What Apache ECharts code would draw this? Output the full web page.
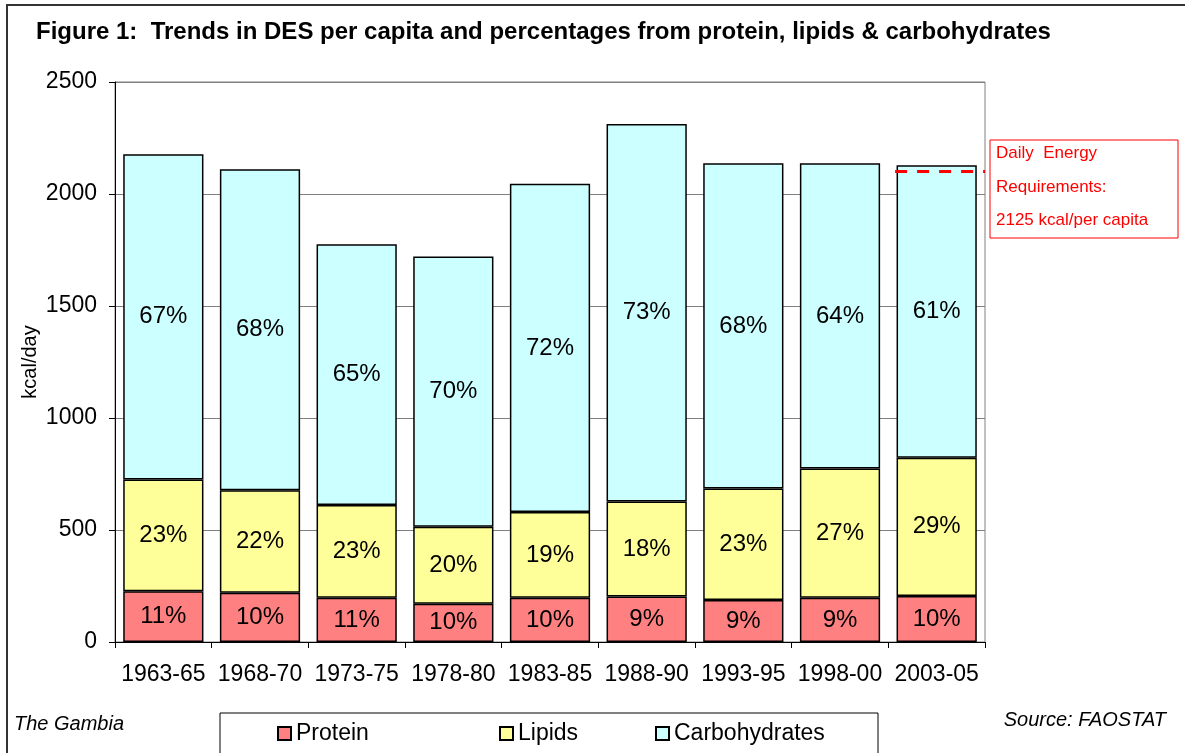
<!DOCTYPE html>
<html>
<head>
<meta charset="utf-8">
<script src="https://cdn.jsdelivr.net/npm/echarts@6/dist/echarts.min.js"></script>
<style>
html,body{margin:0;padding:0;background:#fff;}
#chart{width:1185px;height:753px;}
</style>
</head>
<body>
<div id="chart"></div>
<script>
const categories = ['1963-65','1968-70','1973-75','1978-80','1983-85','1988-90','1993-95','1998-00','2003-05'];
const protein = [227, 220, 197, 171, 197, 203, 187, 197, 205];
const lipids = [499, 457, 415, 343, 383, 424, 498, 577, 618];
const carbs = [1451, 1433, 1164, 1207, 1466, 1686, 1452, 1363, 1305];
const proteinPct = ['11%','10%','11%','10%','10%','9%','9%','9%','10%'];
const lipidsPct = ['23%','22%','23%','20%','19%','18%','23%','27%','29%'];
const carbsPct = ['67%','68%','65%','70%','72%','73%','68%','64%','61%'];
const derValue = 2100;
const derText = ['Daily  Energy', 'Requirements:', '2125 kcal/per capita'];

const FONT = '"Liberation Sans", Arial, sans-serif';
const chart = echarts.init(document.getElementById('chart'));

function mkSeries(name, data, pct, color) {
  return {
    name: name, type: 'bar', stack: 'total', data: data,
    barCategoryGap: '17%',
    itemStyle: { color: color, borderColor: '#000', borderWidth: 1.5 },
    label: {
      show: true, position: 'inside', color: '#000', fontFamily: FONT, fontSize: 24,
      formatter: p => pct[p.dataIndex]
    },
    emphasis: { disabled: true }
  };
}

const legendBase = {
  itemWidth: 13, itemHeight: 13, itemGap: 6, top: 722, padding: 0,
  textStyle: { fontFamily: FONT, fontSize: 23, color: '#000' },
  icon: 'rect', selectedMode: false
};

const option = {
  animation: false,
  backgroundColor: '#fff',
  title: {
    text: 'Figure 1:  Trends in DES per capita and percentages from protein, lipids & carbohydrates',
    left: 31, top: 15,
    textStyle: { fontFamily: FONT, fontSize: 24, fontWeight: 'bold', color: '#000' }
  },
  grid: { left: 115, right: 200, top: 82, bottom: 111, show: true, borderColor: '#808080', borderWidth: 1 },
  legend: [
    Object.assign({}, legendBase, { data: ['Protein'], left: 277 }),
    Object.assign({}, legendBase, { data: ['Lipids'], left: 499 }),
    Object.assign({}, legendBase, { data: ['Carbohydrates'], left: 655 })
  ],
  xAxis: [{
    type: 'category', data: categories,
    axisLine: { lineStyle: { color: '#000', width: 1 } },
    axisTick: { show: true, length: 6, lineStyle: { color: '#000' } },
    axisLabel: { fontFamily: FONT, fontSize: 23, color: '#000', margin: 21, interval: 0 }
  }, {
    type: 'value', min: 0, max: 9, show: false
  }],
  yAxis: {
    type: 'value', min: 0, max: 2500, interval: 500,
    name: 'kcal/day', nameLocation: 'middle', nameGap: 75, nameRotate: 90, nameMoveOverlap: false,
    nameTextStyle: { fontFamily: FONT, fontSize: 20, color: '#000' },
    axisLine: { show: true, lineStyle: { color: '#000', width: 1 } },
    axisTick: { show: true, length: 6, lineStyle: { color: '#000' } },
    axisLabel: { fontFamily: FONT, fontSize: 23, color: '#000', margin: 18, formatter: v => String(v) },
    splitLine: { lineStyle: { color: '#808080', width: 1 } }
  },
  series: [
    mkSeries('Protein', protein, proteinPct, '#FF8080'),
    mkSeries('Lipids', lipids, lipidsPct, '#FFFF99'),
    mkSeries('Carbohydrates', carbs, carbsPct, '#CCFFFF'),
    {
      name: 'DER', type: 'line', xAxisIndex: 1,
      data: [[8.07, derValue], [9, derValue]],
      symbol: 'none', lineStyle: { color: '#FF0000', width: 3, type: [12, 10] },
      z: 5, silent: true
    }
  ],
  graphic: [
    { type: 'rect', shape: { x: 7, y: 5, width: 1300, height: 900 }, style: { fill: 'none', stroke: '#333', lineWidth: 2 }, silent: true },
    { type: 'rect', shape: { x: 220, y: 713, width: 658, height: 100 }, style: { fill: '#fff', stroke: '#000', lineWidth: 1 }, z: -1, silent: true },
    { type: 'text', left: 14, top: 714, style: { text: 'The Gambia', font: 'italic 20px ' + FONT, fill: '#000' } },
    { type: 'text', right: 19, top: 710, style: { text: 'Source: FAOSTAT', font: 'italic 20px ' + FONT, fill: '#000' } },
    { type: 'rect', shape: { x: 990, y: 140, width: 188, height: 98 }, style: { fill: '#fff', stroke: '#FF0000', lineWidth: 1 } },
    { type: 'text', left: 996, top: 145, style: { text: derText[0], font: '17px ' + FONT, fill: '#FF0000' } },
    { type: 'text', left: 996, top: 179, style: { text: derText[1], font: '17px ' + FONT, fill: '#FF0000' } },
    { type: 'text', left: 996, top: 212, style: { text: derText[2], font: '17px ' + FONT, fill: '#FF0000' } }
  ]
};
chart.setOption(option);
</script>
</body>
</html>
